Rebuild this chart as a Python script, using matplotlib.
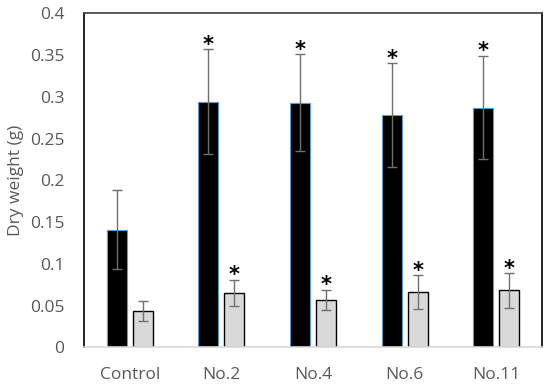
import matplotlib
matplotlib.use('Agg')
import matplotlib.pyplot as plt
import numpy as np

plt.rcParams['font.family'] = ['Open Sans', 'DejaVu Sans']

# Data
groups = ['Control', 'No.2', 'No.4', 'No.6', 'No.11']
black_vals = [0.141, 0.294, 0.293, 0.278, 0.287]
black_err = [0.047, 0.063, 0.058, 0.062, 0.062]
grey_vals = [0.043, 0.065, 0.057, 0.066, 0.068]
grey_err = [0.012, 0.016, 0.012, 0.020, 0.021]
black_sig = [False, True, True, True, True]
grey_sig = [False, True, True, True, True]

fig = plt.figure(figsize=(5.5, 3.88), dpi=100)
ax = fig.add_axes([0.1527, 0.105, 0.8328, 0.8607])

x = np.arange(len(groups))
w = 0.22
off = 0.142
ekw = dict(ecolor='#6f6f6f', elinewidth=1.0, capsize=3.5, capthick=1.0)

ax.bar(x - off, black_vals, w, color='black', edgecolor='#5b9bd5', linewidth=0.8,
       yerr=black_err, error_kw=ekw, zorder=2)
ax.bar(x + off, grey_vals, w, color='#d9d9d9', edgecolor='black', linewidth=1.0,
       yerr=grey_err, error_kw=ekw, zorder=2)

# significance stars
for xi, v, e, s in zip(x - off, black_vals, black_err, black_sig):
    if s:
        ax.annotate('*', (xi, v + e), xytext=(0, -4), textcoords='offset points',
                    ha='center', va='bottom', fontsize=15, fontweight='bold',
                    family='DejaVu Sans')
for xi, v, e, s in zip(x + off, grey_vals, grey_err, grey_sig):
    if s:
        ax.annotate('*', (xi, v + e), xytext=(0, -4), textcoords='offset points',
                    ha='center', va='bottom', fontsize=15, fontweight='bold',
                    family='DejaVu Sans')

ax.set_xlim(-0.5, len(groups) - 0.5)
ax.set_ylim(0, 0.4)
ax.set_yticks(np.arange(0, 0.401, 0.05))
ax.set_yticklabels(['0', '0.05', '0.1', '0.15', '0.2', '0.25', '0.3', '0.35', '0.4'])
ax.set_xticks(x)
ax.set_xticklabels(groups)
ax.tick_params(length=0, labelsize=12.5, labelcolor='#595959')
ax.tick_params(axis='y', pad=14)
ax.tick_params(axis='x', pad=14)
ax.set_ylabel('Dry weight (g)', fontsize=12.5, color='#595959', labelpad=4)

ax.spines['left'].set_color('black')
ax.spines['right'].set_color('black')
ax.spines['top'].set_color('#404040')
ax.spines['bottom'].set_color('#d9d9d9')
for sp in ax.spines.values():
    sp.set_linewidth(1.2)

fig.savefig('out.png', dpi=100)
